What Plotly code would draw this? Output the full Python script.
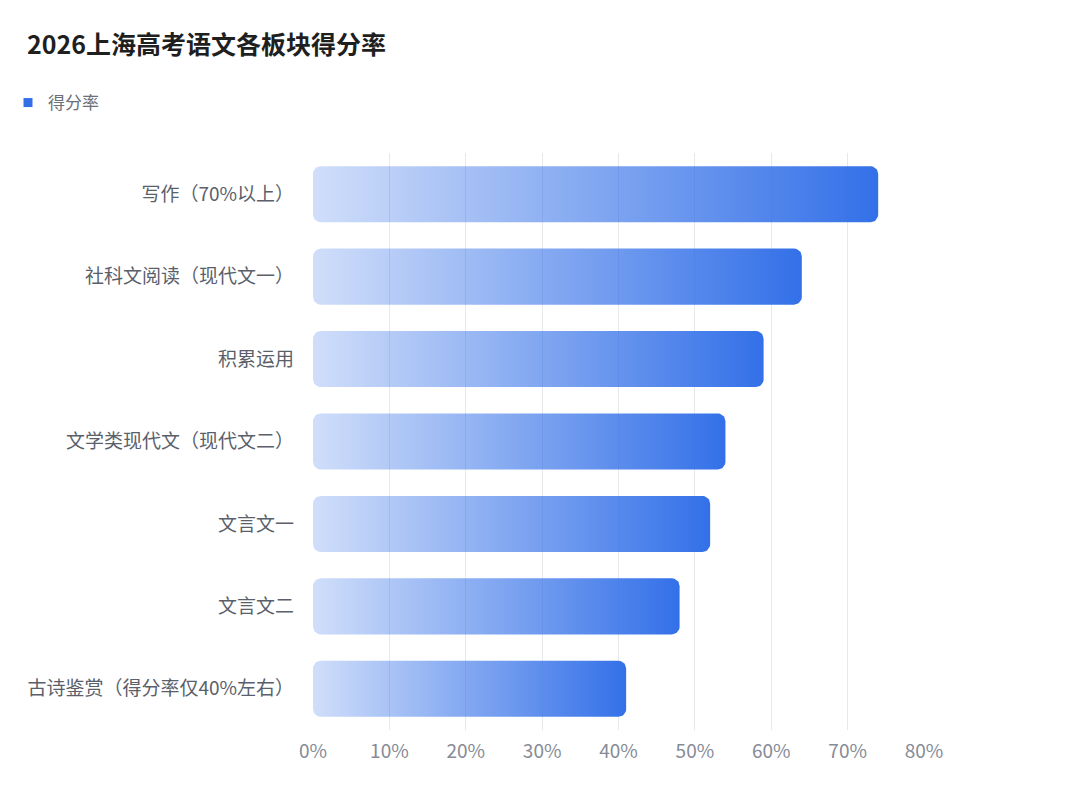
import numpy as np
import plotly.graph_objects as go

# chart data
categories = ["写作（70%以上）", "社科文阅读（现代文一）", "积累运用", "文学类现代文（现代文二）",
              "文言文一", "文言文二", "古诗鉴赏（得分率仅40%左右）"]
rates = [74, 64, 59, 54, 52, 48, 41]
x_ticks = [0, 10, 20, 30, 40, 50, 60, 70, 80]
x_tick_labels = ["0%", "10%", "20%", "30%", "40%", "50%", "60%", "70%", "80%"]

BLUE = "rgb(51,112,232)"
BAR_H = 0.68     # bar thickness in category units
RX = 1.0         # corner radius along x (percent units)
RY = 0.095       # corner radius along y (category units)


def rounded_bar(value, yc):
    # outline of a rounded rectangle from 0 to value, centered at yc
    y0, y1 = yc - BAR_H / 2, yc + BAR_H / 2
    corners = [
        (value - RX, y1 - RY, 0, np.pi / 2),
        (RX, y1 - RY, np.pi / 2, np.pi),
        (RX, y0 + RY, np.pi, 1.5 * np.pi),
        (value - RX, y0 + RY, 1.5 * np.pi, 2 * np.pi),
    ]
    xs, ys = [], []
    for cx, cy, a0, a1 in corners:
        t = np.linspace(a0, a1, 10)
        xs += list(cx + RX * np.cos(t))
        ys += list(cy + RY * np.sin(t))
    xs.append(xs[0])
    ys.append(ys[0])
    return xs, ys


fig = go.Figure()

n = len(categories)
for i, (cat, val) in enumerate(zip(categories, rates)):
    yc = n - 1 - i
    xs, ys = rounded_bar(val, yc)
    fig.add_trace(go.Scatter(
        x=xs, y=ys, mode="lines", fill="toself",
        line=dict(width=0),
        fillgradient=dict(type="horizontal",
                          colorscale=[[0, "rgba(51,112,232,0.23)"], [1, BLUE]]),
        hoveron="fills", hoverinfo="text", text=f"{cat}: {val}%",
        showlegend=False,
    ))

# legend entry
fig.add_trace(go.Scatter(
    x=[None], y=[None], mode="markers", name="得分率",
    marker=dict(symbol="square", size=9, color=BLUE),
))

fig.update_layout(
    width=1080, height=788,
    paper_bgcolor="white", plot_bgcolor="white",
    font=dict(family="Noto Sans CJK SC", color="#5f6470"),
    margin=dict(l=305, r=164, t=145, b=66),
    title=dict(text="<b>2026上海高考语文各板块得分率</b>",
               x=19 / 1080, xref="container", xanchor="left",
               y=1 - 37 / 788, yref="container", yanchor="middle",
               font=dict(size=25, color="#1f1f1f")),
    legend=dict(orientation="h", xref="container", yref="container",
                x=0.0, y=1 - 95 / 788, xanchor="left", yanchor="middle",
                font=dict(size=17, color="#6b707a"), itemwidth=30),
    showlegend=True,
    xaxis=dict(range=[0, 80], tickvals=x_ticks, ticktext=x_tick_labels,
               showgrid=True, gridcolor="#e6e8ec", gridwidth=1,
               zeroline=False, showline=False, ticks="", layer="above traces",
               ticklabelstandoff=8,
               tickfont=dict(size=19, color="#868b96")),
    yaxis=dict(range=[-0.5, n - 0.5],
               tickvals=list(range(n - 1, -1, -1)), ticktext=categories,
               showgrid=False, zeroline=False, showline=False, ticks="",
               ticklabelstandoff=18,
               tickfont=dict(size=19, color="#5a5f6b")),
)

fig.write_html("out.html")
